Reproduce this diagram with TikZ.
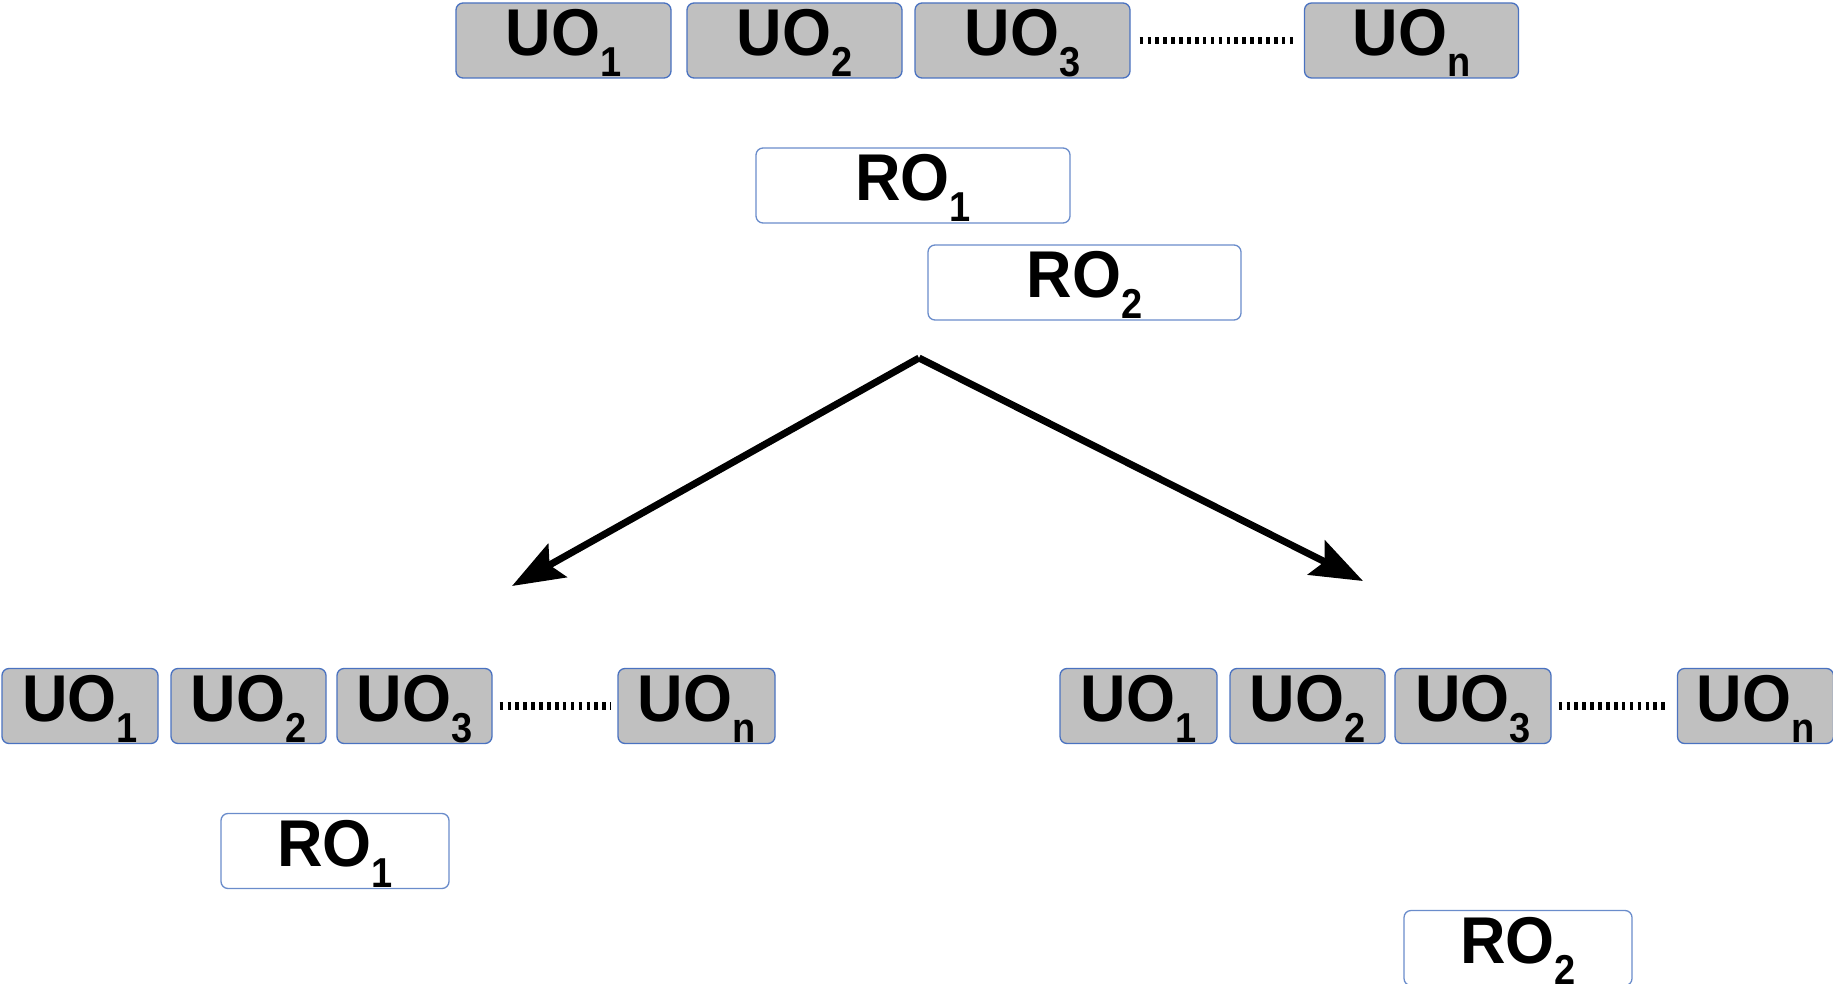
\documentclass[tikz,border=0pt]{standalone}
\usepackage{fontspec}
\setmainfont{Liberation Sans}
\usetikzlibrary{arrows.meta}
\definecolor{boxgray}{HTML}{C0C0C0}
\definecolor{boxblue}{HTML}{4A72C0}
\definecolor{roblue}{HTML}{6A8CCB}
\newcommand\sublab[2]{\scalebox{1}[1.05]{#1}\raisebox{-20.5pt}{\scalebox{1}[1.1]{\fontsize{38}{38}\selectfont #2}}}
\tikzset{
  base/.style={rounded corners=7pt, line width=1.3pt, inner sep=0pt,
    minimum height=75pt, text height=53pt, text depth=22pt,
    font=\bfseries\fontsize{63}{63}\selectfont, align=center},
  uobox/.style={base, draw=boxblue, fill=boxgray},
  robox/.style={base, draw=roblue, fill=white},
  dotline/.style={line width=7.5pt, dash pattern=on 3.6pt off 4.3pt, shorten <=9pt, shorten >=11pt},
  bigarrow/.style={line width=7pt, -{Stealth[length=52pt,width=38pt,inset=9pt]}}
}
\begin{document}
\begin{tikzpicture}[x=1pt,y=-1pt]
\useasboundingbox (0,0) rectangle (1833,984);
% top row
\node[uobox, minimum width=215pt] (t1) at (563.5,40.5) {\sublab{UO}{1}};
\node[uobox, minimum width=215pt] (t2) at (794.5,40.5) {\sublab{UO}{2}};
\node[uobox, minimum width=215pt] (t3) at (1022.5,40.5) {\sublab{UO}{3}};
\node[uobox, minimum width=214pt] (tn) at (1411.5,40.5) {\sublab{UO}{n}};
\draw[dotline] (t3.east) -- (tn.west);
\node[robox, minimum width=314pt] (r1) at (913,185.5) {\sublab{RO}{1}};
\node[robox, minimum width=313pt] (r2) at (1084.5,282.5) {\sublab{RO}{2}};
% arrows
\coordinate (apex) at (919,358);
\coordinate (lt) at (512,586);
\coordinate (rt) at (1363,581);
\draw[bigarrow] (apex) -- (lt);
\draw[bigarrow] (apex) -- (rt);
% bottom left row
\node[uobox, minimum width=156pt] (b1) at (80,706) {\sublab{UO}{1}};
\node[uobox, minimum width=155pt] (b2) at (248.5,706) {\sublab{UO}{2}};
\node[uobox, minimum width=155pt] (b3) at (414.5,706) {\sublab{UO}{3}};
\node[uobox, minimum width=157pt] (bn) at (696.5,706) {\sublab{UO}{n}};
\draw[dotline, shorten <=7pt, shorten >=7pt] (b3.east) -- (bn.west);
\node[robox, minimum width=228pt] (br1) at (335,851) {\sublab{RO}{1}};
% bottom right row
\node[uobox, minimum width=157pt] (c1) at (1138.5,706) {\sublab{UO}{1}};
\node[uobox, minimum width=155pt] (c2) at (1307.5,706) {\sublab{UO}{2}};
\node[uobox, minimum width=156pt] (c3) at (1473,706) {\sublab{UO}{3}};
\node[uobox, minimum width=156pt] (cn) at (1755.5,706) {\sublab{UO}{n}};
\draw[dotline, shorten <=7pt, shorten >=9pt] (c3.east) -- (cn.west);
\node[robox, minimum width=228pt] (cr2) at (1518,948) {\sublab{RO}{2}};
\end{tikzpicture}
\end{document}
